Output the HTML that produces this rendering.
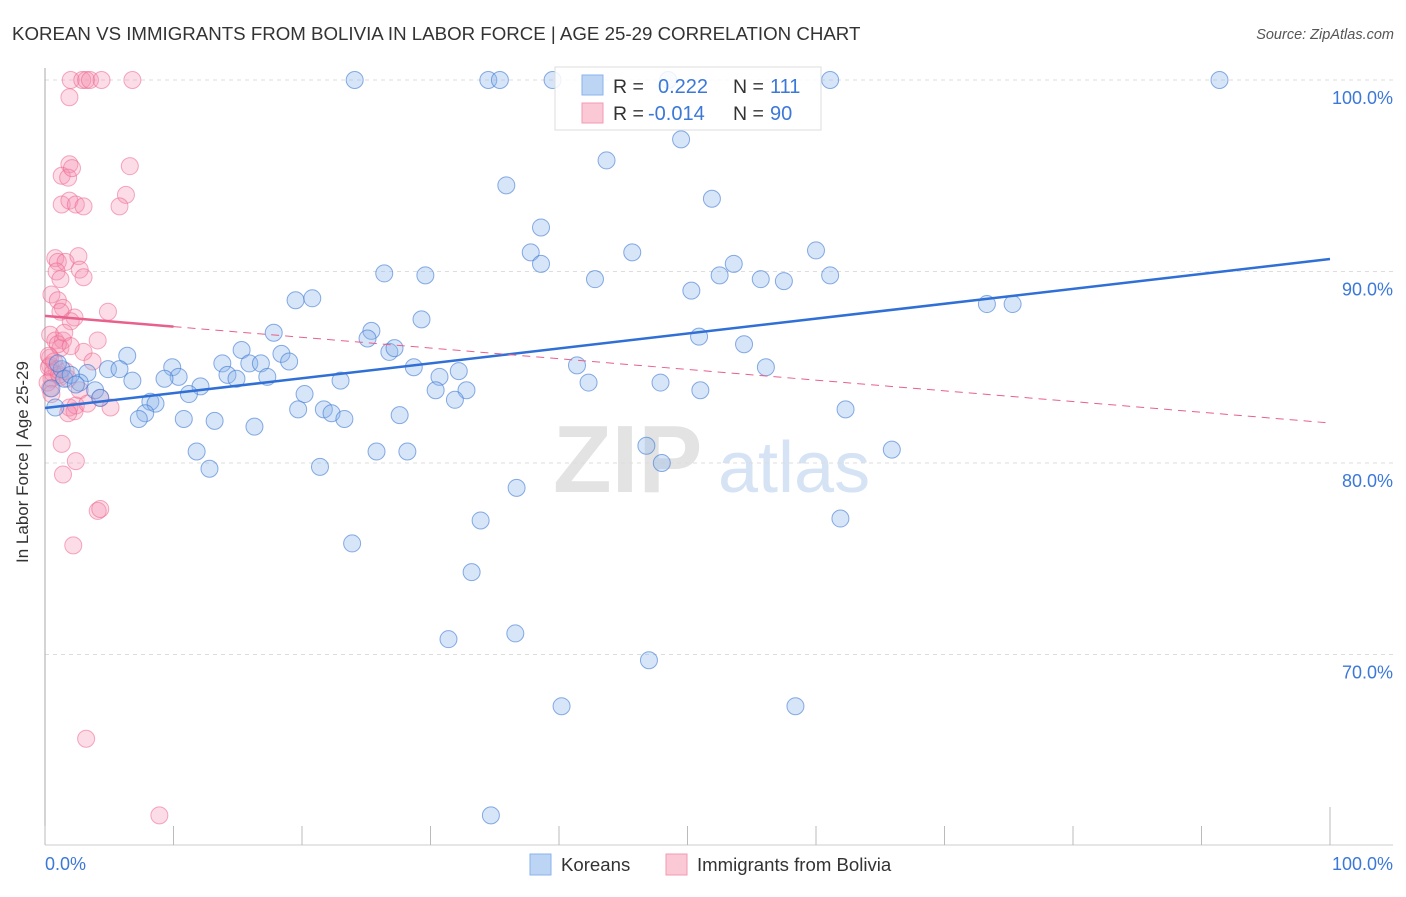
<!DOCTYPE html>
<html><head><meta charset="utf-8"><style>
body{margin:0;background:#fff;font-family:"Liberation Sans",sans-serif;}
svg text{font-family:"Liberation Sans",sans-serif;}
</style></head><body>
<svg width="1406" height="892" viewBox="0 0 1406 892">
<text x="12" y="40" font-size="18.7" fill="#333">KOREAN VS IMMIGRANTS FROM BOLIVIA IN LABOR FORCE | AGE 25-29 CORRELATION CHART</text>
<text x="1394" y="39" font-size="14.5" fill="#555" font-style="italic" text-anchor="end">Source: ZipAtlas.com</text>
<g>
<text x="553" y="492" font-size="96" fill="#e3e3e3" font-family="Liberation Serif,serif" font-weight="bold">ZIP</text>
<text x="718" y="492" font-size="72" fill="#d6e3f5">atlas</text>
</g>
<g id="grid"></g>
<g id="axes"></g>
<g id="pts"></g>
<g id="trend"></g>
<text x="24" y="458" font-size="17" fill="#333" text-anchor="middle" transform="rotate(-90 28 458)">In Labor Force | Age 25-29</text>
<g>
<rect x="555" y="67" width="266" height="63" fill="rgba(255,255,255,0.85)" stroke="#ddd"/>
<rect x="582" y="75" width="21" height="20" fill="#bcd5f5" stroke="#8ab3ea"/>
<rect x="582" y="103" width="21" height="20" fill="#fbc8d6" stroke="#f09ab3"/>
<text x="613" y="93" font-size="19.5" fill="#333">R =</text>
<text x="658" y="93" font-size="20" fill="#3b78d8">0.222</text>
<text x="733" y="93" font-size="19.5" fill="#333">N =</text>
<text x="770" y="93" font-size="20" fill="#3b78d8">111</text>
<text x="613" y="120" font-size="19.5" fill="#333">R =</text>
<text x="648" y="120" font-size="20" fill="#3b78d8">-0.014</text>
<text x="733" y="120" font-size="19.5" fill="#333">N =</text>
<text x="770" y="120" font-size="20" fill="#3b78d8">90</text>
</g>
<g>
<rect x="530" y="854" width="21" height="21" fill="#bcd5f5" stroke="#8ab3ea"/>
<text x="561" y="871" font-size="18.6" fill="#333">Koreans</text>
<rect x="666" y="854" width="21" height="21" fill="#fbc8d6" stroke="#f09ab3"/>
<text x="697" y="871" font-size="18.6" fill="#333">Immigrants from Bolivia</text>
</g>
</svg>
<script>
const yTicks=[100,90,80,70];
const yTickLabels=["100.0%","90.0%","80.0%","70.0%"];
const xTicks=[0,10,20,30,40,50,60,70,80,90,100];
const koreanX=[24.1,34.5,35.4,39.5,48.5,61.1,91.4,49.5,43.7,35.9,51.9,38.6,37.8,38.6,45.7,60.0,26.4,29.6,42.8,53.6,52.5,55.7,57.5,61.1,50.3,19.5,20.8,73.3,75.3,29.3,17.8,25.4,25.1,50.9,54.4,15.3,18.4,26.8,27.2,6.4,19.0,13.8,15.9,16.8,28.7,41.4,9.9,4.9,5.8,56.1,32.2,14.2,14.9,17.3,10.4,9.3,6.8,23.0,30.7,42.3,47.9,3.3,2.7,3.9,12.1,11.2,30.4,32.8,20.2,51.0,4.3,8.2,8.6,31.9,19.7,21.7,22.3,27.6,7.8,7.3,10.8,23.3,13.2,62.3,0.8,16.3,46.8,11.8,25.8,28.2,65.9,48.0,12.8,21.4,36.7,33.9,61.9,23.9,33.2,36.6,31.4,47.0,40.2,58.4,34.7,1.3,1.5,2.0,0.5,1.0,2.4];
const koreanY=[100,100,100,100,100,100,100,96.9,95.8,94.5,93.8,92.3,91.0,90.4,91.0,91.1,89.9,89.8,89.6,90.4,89.8,89.6,89.5,89.8,89.0,88.5,88.6,88.3,88.3,87.5,86.8,86.9,86.5,86.6,86.2,85.9,85.7,85.8,86.0,85.6,85.3,85.2,85.2,85.2,85.0,85.1,85.0,84.9,84.9,85.0,84.8,84.6,84.4,84.5,84.5,84.4,84.3,84.3,84.5,84.2,84.2,84.7,84.2,83.8,84.0,83.6,83.8,83.8,83.6,83.8,83.4,83.2,83.1,83.3,82.8,82.8,82.6,82.5,82.6,82.3,82.3,82.3,82.2,82.8,82.9,81.9,80.9,80.6,80.6,80.6,80.7,80.0,79.7,79.8,78.7,77.0,77.1,75.8,74.3,71.1,70.8,69.7,67.3,67.3,61.6,84.9,84.4,84.6,83.9,85.2,84.1];
const boliviaX=[2.0,2.9,3.2,3.5,4.4,6.8,1.9,1.9,1.3,1.8,2.1,6.6,1.3,1.9,2.4,3.0,6.3,5.8,0.8,1.0,1.6,2.6,2.7,3.0,0.9,1.2,0.5,1.0,1.4,2.3,4.9,1.2,2.0,0.4,0.8,1.4,4.1,1.2,3.0,0.4,3.7,0.4,0.9,0.5,1.2,1.8,0.4,2.7,4.3,1.9,2.3,2.4,3.3,5.1,1.8,1.3,2.4,1.4,4.1,4.3,2.2,3.2,8.9,0.3,0.6,1.0,1.5,0.2,0.7,1.1,0.5,2.0,0.3,1.6];
const boliviaY=[100,100,100,100,100,100,99.1,95.6,95.0,94.9,95.4,95.5,93.5,93.7,93.5,93.4,94.0,93.4,90.7,90.5,90.5,90.8,90.1,89.7,90.0,89.6,88.8,88.5,88.1,87.6,87.9,87.9,87.4,86.7,86.4,86.4,86.4,86.0,85.8,85.5,85.3,85.1,84.9,84.4,84.5,84.4,83.9,83.8,83.4,82.9,82.7,83.0,83.1,82.9,82.6,81.0,80.1,79.4,77.5,77.6,75.7,65.6,61.6,85.0,84.7,86.2,86.8,84.2,85.3,84.6,83.6,86.1,85.6,84.8];
const koreanTrend=[82.87,90.65];
const boliviaTrend=[87.68,82.09];
const X=v=>45+v*12.85, Y=v=>80+(100-v)*19.15;
const NS="http://www.w3.org/2000/svg";
function mk(t,a,p){const e=document.createElementNS(NS,t);for(const k in a)e.setAttribute(k,a[k]);p.appendChild(e);return e;}
const grid=document.getElementById('grid'),axes=document.getElementById('axes');
yTicks.forEach((t,i)=>{
 const l=mk('line',{x1:45,x2:1393,y1:Y(t),y2:Y(t),stroke:'#ddd','stroke-dasharray':'4,4'},grid);
 
 
 const tx=mk('text',{x:1393,y:Y(t)+24,'font-size':18,fill:'#3b78d8','text-anchor':'end'},axes);
 tx.textContent=yTickLabels[i];
 
 
});
let a=mk('line',{x1:45,x2:45,y1:68,y2:845,stroke:'#aaa'},axes);
a=mk('line',{x1:45,x2:1393,y1:845,y2:845,stroke:'#ccc'},axes);
xTicks.forEach(t=>{
 const l=mk('line',{x1:X(t),x2:X(t),y1:t==100?807:826,y2:845,stroke:'#bbb'},axes);
 
 
});
let t0=mk('text',{x:45,y:870,'font-size':18,fill:'#3b78d8'},axes);t0.textContent='0.0%';


let t1=mk('text',{x:1393,y:870,'font-size':18,fill:'#3b78d8','text-anchor':'end'},axes);t1.textContent='100.0%';


const pts=document.getElementById('pts');
boliviaX.forEach((x,i)=>{
 const c=mk('circle',{cx:X(x),cy:Y(boliviaY[i]),r:8.5,fill:'rgba(244,143,177,0.3)',stroke:'rgba(236,100,140,0.55)','stroke-width':1},pts);
 
 
});
koreanX.forEach((x,i)=>{
 const c=mk('circle',{cx:X(x),cy:Y(koreanY[i]),r:8.5,fill:'rgba(140,180,235,0.35)',stroke:'rgba(60,120,210,0.6)','stroke-width':1},pts);
 
 
});
const tr=document.getElementById('trend');
let k=mk('line',{x1:X(0),y1:Y(koreanTrend[0]),x2:X(100),y2:Y(koreanTrend[1]),stroke:'#2f6fd6','stroke-width':2.5},tr);


const bAt=v=>boliviaTrend[0]+(boliviaTrend[1]-boliviaTrend[0])*v/100;
let b1=mk('line',{x1:X(0),y1:Y(bAt(0)),x2:X(10),y2:Y(bAt(10)),stroke:'#e8608c','stroke-width':2.5},tr);


let b2=mk('line',{x1:X(10),y1:Y(bAt(10)),x2:X(100),y2:Y(bAt(100)),stroke:'#e8608c','stroke-width':1,'stroke-dasharray':'8,6'},tr);


</script>
</body></html>
